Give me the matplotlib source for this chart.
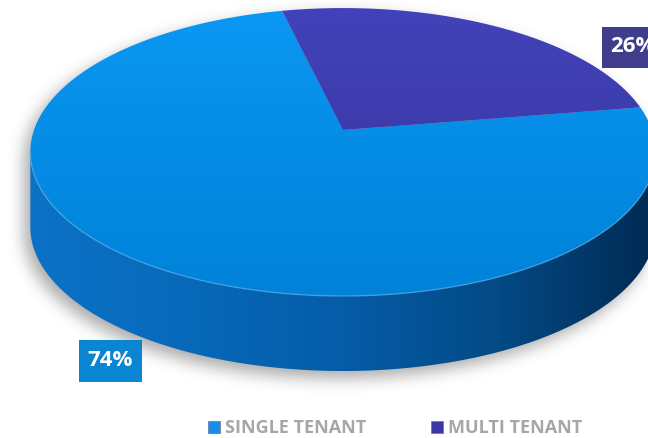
import numpy as np
import matplotlib
matplotlib.use('Agg')
import matplotlib.pyplot as plt
from matplotlib.patches import Polygon, Rectangle, Patch
from matplotlib.path import Path
from matplotlib.colors import LinearSegmentedColormap

# data
labels = ['SINGLE TENANT', 'MULTI TENANT']
values = [74, 26]
pct_text = ['74%', '26%']

# look
top_colors = [('#0a97f3', '#0082d8'), ('#4242ba', '#37339a')]
legend_colors = ['#1a8ee6', '#3a38a8']
box_colors = ['#0a85d1', '#403d8d']

W, H = 648, 438
cx, cy = 343.0, 130.0      # pie centre on screen
A, B, persp = 309.0, 140.6, 0.153
depth = 75.0
start_angle = 9.5          # degrees, slices run clockwise


def project(theta):
    X, Z = np.cos(theta), np.sin(theta)
    s = 1.0 + persp * Z
    return np.column_stack([cx + A * X / s, cy - B * Z / s])


def wedge_points(a0, a1, n=200):
    th = np.radians(np.linspace(a0, a1, n))
    arc = project(th)
    return np.vstack([[cx, cy], arc])


fig = plt.figure(figsize=(W / 100, H / 100), dpi=100)
ax = fig.add_axes([0, 0, 1, 1])
ax.set_xlim(0, W)
ax.set_ylim(H, 0)
ax.axis('off')

# full outline of the top face and the visible side wall
ring = project(np.radians(np.linspace(0, 360, 721)))
i_left = np.argmin(ring[:, 0])
i_right = np.argmax(ring[:, 0])
front = ring[i_left:i_right + 1]           # 180..360 runs through the front
side_pts = np.vstack([front, (front + [0, depth])[::-1]])

# soft drop shadow
gx, gy = np.meshgrid(np.arange(W) + 0.5, np.arange(H) + 0.5)
grid = np.column_stack([gx.ravel(), gy.ravel()])
shift = np.array([-6.0, 7.0])
mask = (Path(ring + shift).contains_points(grid) |
        Path(side_pts + shift).contains_points(grid)).reshape(H, W).astype(float)
k = np.ones(15) / 15
for _ in range(3):
    mask = np.apply_along_axis(lambda r: np.convolve(r, k, mode='same'), 1, mask)
    mask = np.apply_along_axis(lambda c: np.convolve(c, k, mode='same'), 0, mask)
shadow = np.zeros((H, W, 4))
shadow[..., :3] = 0.45
shadow[..., 3] = mask * 0.6
ax.imshow(shadow, extent=(0, W, H, 0), aspect='auto', zorder=1, interpolation='bilinear')

# side wall, shaded left to right
side_cmap = LinearSegmentedColormap.from_list(
    'side', ['#0b72c6', '#0869ba', '#055ca8', '#034a86', '#012a52'])
side_patch = Polygon(side_pts, closed=True, facecolor='none', edgecolor='none')
ax.add_patch(side_patch)
x0, x1 = front[:, 0].min(), front[:, 0].max()
grad = np.linspace(0, 1, 256)[None, :]
im = ax.imshow(grad, extent=(x0, x1, H, 0), cmap=side_cmap, aspect='auto', zorder=2)
im.set_clip_path(side_patch)

# top face slices
total = float(sum(values))
a = start_angle
vgrad = np.linspace(0, 1, 256)[:, None]
for val, (c_top, c_bot) in zip(values, top_colors):
    span = 360.0 * val / total
    pts = wedge_points(a - span, a)
    a -= span
    wp = Polygon(pts, closed=True, facecolor='none', edgecolor='none')
    ax.add_patch(wp)
    cmap = LinearSegmentedColormap.from_list('t', [c_top, c_bot])
    y0, y1 = ring[:, 1].min(), ring[:, 1].max()
    im = ax.imshow(vgrad, extent=(0, W, y1, y0), cmap=cmap, aspect='auto', zorder=3)
    im.set_clip_path(wp)

# light rim between top and side
ax.plot(front[:, 0], front[:, 1], color='#5ab4f0', lw=1.0, alpha=0.6, zorder=4)

# percentage labels
ax.add_patch(Rectangle((79, 340), 63, 42, facecolor=box_colors[0], edgecolor='none', zorder=5))
ax.text(110.5, 361, pct_text[0], color='white', fontsize=16, fontweight='bold',
        family='Open Sans', ha='center', va='center', zorder=6)
ax.add_patch(Rectangle((602, 27), 60, 41, facecolor=box_colors[1], edgecolor='none', zorder=5))
ax.text(610, 47, pct_text[1], color='white', fontsize=16, fontweight='bold',
        family='Open Sans', ha='left', va='center', zorder=6)

# legend
handles = [Patch(facecolor=c, edgecolor='#6a7fa8', linewidth=0.6) for c in legend_colors]
leg = fig.legend(handles, labels, loc='center', bbox_to_anchor=(0.61, 0.022), ncol=2,
                 frameon=False, handlelength=0.65, handleheight=0.65, handletextpad=0.3,
                 columnspacing=3.6, prop={'family': 'Open Sans', 'weight': 'bold', 'size': 13})
for t in leg.get_texts():
    t.set_color('#a6a6a6')

fig.savefig('out.png', dpi=100)
